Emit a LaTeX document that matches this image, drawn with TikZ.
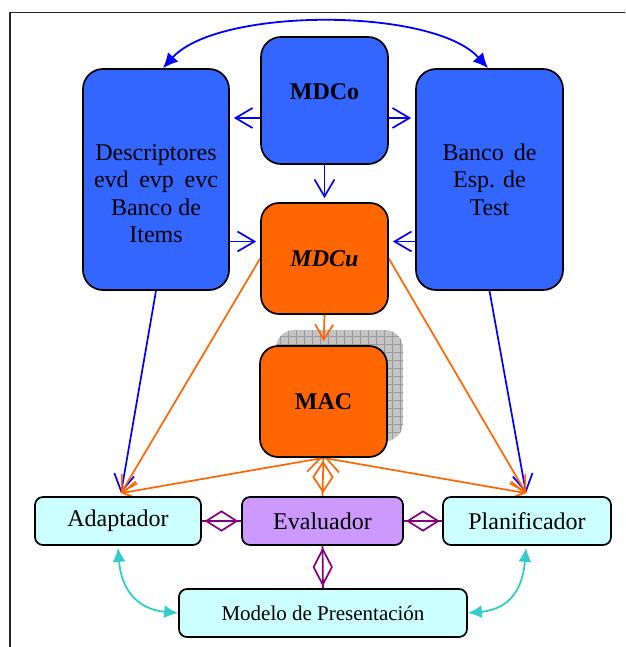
\documentclass[tikz,border=0pt]{standalone}
\usepackage{fontspec}
\setmainfont{Liberation Serif}
\usetikzlibrary{arrows.meta,shapes.geometric,backgrounds}

\definecolor{boxblue}{HTML}{3366FF}
\definecolor{arrblue}{HTML}{0000FF}
\definecolor{orng}{HTML}{FF6600}
\definecolor{lilac}{HTML}{CC99FF}
\definecolor{plum}{HTML}{800080}
\definecolor{palecyan}{HTML}{CCFFFF}
\definecolor{tealarr}{HTML}{33CCCC}
\definecolor{shadowgray}{HTML}{C4C4C4}
\definecolor{gridgray}{HTML}{9A9A9A}

\begin{document}
\begin{tikzpicture}[x=1pt,y=-1pt,
  bigfont/.style={font=\fontsize{24}{27.6}\selectfont},
  bigbox/.style={draw=black, line width=1.7pt, rounded corners=20pt, fill=boxblue,
                 inner sep=0pt, align=center, bigfont},
  corebox/.style={bigbox, fill=orng, rounded corners=18pt, minimum width=127pt, minimum height=111pt},
  smallbox/.style={draw=black, line width=1.7pt, rounded corners=8pt, inner sep=0pt,
                   minimum height=48pt, bigfont},
  bluebarb/.style={draw=arrblue, line width=1.7pt, -{Straight Barb[length=17pt,width=20pt]}, shorten >=4pt},
  orbarb/.style={draw=orng, line width=1.7pt, -{Straight Barb[length=15pt,width=18pt]}},
  hdiam/.style={shape=diamond, draw=plum, line width=1.7pt, minimum width=31pt, minimum height=20pt, inner sep=0pt},
  vdiam/.style={shape=diamond, line width=1.7pt, minimum width=19pt, minimum height=36pt, inner sep=0pt},
  tealcurve/.style={draw=tealarr, line width=1.8pt, {Latex[length=14pt,width=13pt]}-{Latex[length=14pt,width=13pt]}}
]
\useasboundingbox (0,0) rectangle (625,647);

% outer frame (only its top and left sides fall inside the page)
\draw[line width=1.2pt, black!85] (10,647) -- (10,12.5) -- (625,12.5);

% upper blocks
\node[bigbox, minimum width=146pt, minimum height=221pt] (descr) at (156,179.5) {};
\node[bigfont, align=center, inner sep=0pt, anchor=north] (descrtxt) at (156,144)
  {Descriptores\\ \makebox[124pt][s]{evd\hfil evp\hfil evc}\\ Banco de\\ Items};
\node[bigbox, minimum width=127pt, minimum height=127pt] (mdco) at (324.5,100.5) {};
\node[bigfont, font=\fontsize{24}{27.6}\selectfont\bfseries] (mdcotxt) at (324.5,92) {MDCo};
\node[bigbox, minimum width=147pt, minimum height=221pt] (banco) at (489.5,179.5)
  {\makebox[94pt][s]{Banco\hfil de}\\ Esp. de\\ Test};

% core models
\node[corebox] (mdcu) at (324.5,258.5) {\textbf{\textit{MDCu}}};
\node[corebox] (mac) at (323.5,401.5) {\textbf{MAC}};

% lower modules
\node[smallbox, fill=palecyan, minimum width=166pt] (adap) at (118,521) {Adaptador};
\node[smallbox, fill=lilac, minimum width=161pt] (eval) at (322.5,521) {Evaluador};
\node[smallbox, fill=palecyan, minimum width=168pt] (plan) at (527,521) {Planificador};
\node[smallbox, fill=palecyan, minimum width=288pt, font=\fontsize{21}{25}\selectfont] (modelo) at (323,613) {Modelo de Presentación};

\coordinate (adapin) at ([xshift=3pt,yshift=3pt]adap.north);
\coordinate (planin) at ([xshift=-1pt,yshift=3pt]plan.north);

\begin{pgfonlayer}{background}
  % hatched shadow behind MAC
  \begin{scope}
    \clip[rounded corners=18pt] (276,330) rectangle (403,441);
    \fill[shadowgray] (276,330) rectangle (403,441);
    \draw[gridgray, line width=0.5pt, step=8pt] (270,325) grid (410,445);
  \end{scope}

  % blue links between descriptor blocks
  \draw[arrblue, line width=1.8pt, {Latex[length=15pt,width=14pt]}-{Latex[length=15pt,width=14pt]}]
    ([xshift=7pt]descr.north) .. controls +(55,-61) and +(-55,-61) .. ([xshift=-1.5pt]banco.north);
  \draw[bluebarb] ([yshift=-17.5pt]mdco.west) -- ([yshift=-17.5pt]mdco.west -| descr.east);
  \draw[bluebarb] ([yshift=-17.5pt]mdco.east) -- ([yshift=-17.5pt]mdco.east -| banco.west);
  \draw[bluebarb] (mdco.south) -- (mdcu.north);
  \draw[bluebarb] ([yshift=-62pt]descr.east) -- ([yshift=-62pt]descr.east -| mdcu.west);
  \draw[bluebarb] ([yshift=-62pt]banco.west) -- ([yshift=-62pt]banco.west -| mdcu.east);
  \draw[bluebarb, shorten >=0pt] (descr.south) -- (adapin);
  \draw[bluebarb, shorten >=0pt] (banco.south) -- (planin);

  % orange links from the core models
  \draw[orbarb, shorten >=4pt] (mdcu.south) -- (mac.north);
  \draw[orbarb] (mdcu.west) -- (adapin);
  \draw[orbarb] (mdcu.east) -- (planin);
  \draw[orbarb] (mac.south) -- (adapin);
  \draw[orbarb] (mac.south) -- (planin);
  \draw[draw=orng, line width=1.7pt, -{Straight Barb[length=17pt,width=32pt]}]
    (eval.north) -- ([yshift=4pt]mac.south);

  % purple aggregation links
  \draw[plum, line width=1.7pt] (adap.east) -- (eval.west);
  \draw[plum, line width=1.7pt] (eval.east) -- (plan.west);
  \draw[plum, line width=1.7pt] (eval.south) -- (modelo.north);

  % teal links to the presentation model
  \draw[tealcurve] ([yshift=-2pt]adap.south) .. controls +(3,38) and +(-44,-4) .. (modelo.west);
  \draw[tealcurve] ([xshift=-1pt,yshift=-2pt]plan.south) .. controls +(-3,38) and +(44,-4) .. (modelo.east);
\end{pgfonlayer}

% diamonds on the aggregation links
\path (adap.east) -- (eval.west) node[midway, hdiam] (pd1) {};
\path (eval.east) -- (plan.west) node[midway, hdiam] (pd2) {};
\path (eval.south) -- (modelo.north) node[midway, vdiam, draw=plum] (pd3) {};
\path (eval.north) -- (mac.south) node[midway, vdiam, draw=orng, minimum width=20pt, minimum height=30pt] (od1) {};
\end{tikzpicture}
\end{document}
